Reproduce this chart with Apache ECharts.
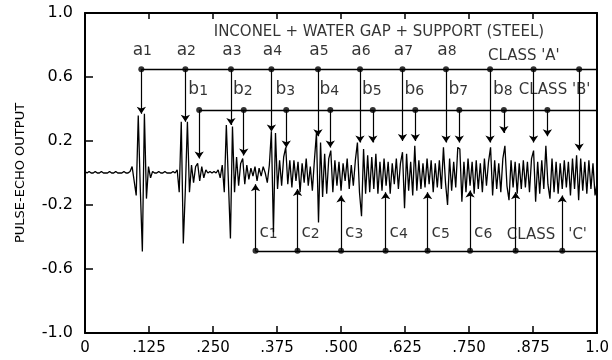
<!DOCTYPE html>
<html>
<head>
<meta charset="utf-8">
<script src="https://cdn.jsdelivr.net/npm/echarts@6/dist/echarts.min.js"></script>
<style>
  html, body { margin: 0; background: #fff; }
  #chart { width: 612px; height: 360px; }
</style>
</head>
<body>
<div id="chart"></div>
<script>
// pulse-echo trace, one sample every SAMPLE_DT of the time axis
const SAMPLE_DT = 0.004;
const pulseEcho = [
  0.01, 0, 0.01, 0, 0, 0.01, 0, 0, 0.01, 0, 0, 0, 0.01, 0, 0, 0.01, 0, 0, 0, 0.01, 0, 0, 0.01,
  0.04, -0.05, -0.14, 0.36, -0.10, -0.49, 0.37, -0.16, 0.04, -0.03, 0.01, 0,
  0, 0.01, 0, 0, 0.01, 0, 0, 0, 0.01, 0, 0.02,
  -0.12, 0.32, -0.44, -0.10, 0.32, -0.12, 0.05, -0.06, 0.04, 0.06, -0.05, 0.04, -0.03, 0.02, 0,
  0.01, 0, 0.01, 0, 0.02, -0.03, 0.05, -0.12, 0.30, -0.05, -0.41, 0.29, -0.12, 0.10, -0.08, 0.06, 0.09, -0.07, 0.05, -0.04,
  0.03, -0.02, 0.04, -0.05, 0.03, -0.02, 0.04, 0, -0.06, 0.05, 0.26, -0.37, 0.25, -0.10, 0.08, -0.08, 0.10, 0.16, -0.07, 0.08,
  -0.09, 0.08, -0.05, 0.07, -0.12, 0.06, -0.06, 0.09, -0.08, 0.04, -0.11, 0.08, 0.25, -0.31, 0.19, -0.15, 0.12, -0.13, 0.09, 0.14,
  -0.12, 0.08, -0.08, 0.07, -0.11, 0.06, -0.05, 0.09, -0.10, 0.05, -0.08, 0.08, 0.19, -0.12, -0.27, 0.15, -0.13, 0.11, -0.12, 0.10,
  -0.10, 0.12, -0.13, 0.07, -0.11, 0.09, -0.08, 0.07, -0.13, 0.06, -0.07, 0.09, -0.10, 0.06, 0.13, -0.22, 0.12, -0.11, 0.07, -0.14,
  0.17, -0.11, 0.08, -0.10, 0.06, -0.09, 0.09, -0.07, 0.08, -0.12, 0.06, -0.09, 0.08, -0.10, 0.16, -0.06, -0.20, 0.09, -0.11, 0.07,
  -0.09, 0.16, 0.15, -0.18, 0.07, -0.12, 0.09, -0.08, 0.07, -0.13, 0.08, -0.10, 0.06, -0.12, 0.09, -0.08, 0.07, 0.16, -0.14, 0.08,
  -0.10, 0.06, -0.12, 0.09, 0.17, -0.08, -0.17, 0.08, -0.09, 0.07, -0.13, 0.06, -0.10, 0.08, -0.09, 0.07, -0.12, 0.09, 0.14, -0.18,
  0.07, -0.13, 0.08, -0.10, 0.17, -0.07, -0.16, 0.09, -0.12, 0.07, -0.13, 0.06, -0.10, 0.08, -0.09, 0.07, -0.14, 0.09, -0.10, 0.11,
  -0.17, 0.09, -0.11, 0.07, -0.13, 0.08, -0.10, 0.06, -0.14, -0.06
];

const xTickLabels = ['0', '.125', '.250', '.375', '.500', '.625', '.750', '.875', '1.0'];

// class A echoes: arrival times, line level, arrow tips
const classA_t = [0.110, 0.196, 0.285, 0.364, 0.455, 0.537, 0.620, 0.705, 0.791, 0.876, 0.965];
const classA_tip = [0.37, 0.32, 0.30, 0.26, 0.23, 0.19, 0.20, 0.19, 0.19, 0.19, 0.14];
const classA_level = 0.648;
const classA_names = ['1', '2', '3', '4', '5', '6', '7', '8'];

// class B
const classB_t = [0.223, 0.310, 0.393, 0.479, 0.562, 0.645, 0.731, 0.818, 0.903];
const classB_tip = [0.09, 0.11, 0.16, 0.16, 0.19, 0.20, 0.19, 0.25, 0.23];
const classB_level = 0.394;
const classB_names = ['1', '2', '3', '4', '5', '6', '7', '8'];

// class C (arrows point up)
const classC_t = [0.333, 0.415, 0.500, 0.587, 0.669, 0.752, 0.841, 0.932];
const classC_tip = [-0.07, -0.10, -0.14, -0.12, -0.12, -0.11, -0.12, -0.14];
const classC_level = -0.486;
const classC_names = ['1', '2', '3', '4', '5', '6'];

const FONT = 'DejaVu Sans';
const INK = '#000';

const chart = echarts.init(document.getElementById('chart'), null, { renderer: 'canvas' });

const trace = pulseEcho.map((v, i) => [i * SAMPLE_DT, v]);

function arrows(ts, level, tips) {
  return ts.map((t, i) => ({ coords: [[t, level], [t, tips[i]]] }));
}
function rail(ts, level) {
  return [{ coords: [[ts[0], level], [1, level]] }];
}
const rich = {
  m: { fontFamily: FONT, fontSize: 17, lineHeight: 17, verticalAlign: 'top', padding: [0, 0, 6, 0], color: INK },
  s: { fontFamily: FONT, fontSize: 14, lineHeight: 14, verticalAlign: 'bottom', color: INK }
};
function subLabels(ts, level, letter, names, offset, align) {
  return names.map((n, i) => ({
    value: [ts[i], level],
    label: { formatter: '{m|' + letter + '}{s|' + n + '}', offset: offset, align: align }
  }));
}
function note(x, y, text, size) {
  return { value: [x, y], label: { formatter: text, fontSize: size } };
}

const arrowStyle = {
  type: 'lines', coordinateSystem: 'cartesian2d', silent: true,
  symbol: ['none', 'arrow'], symbolSize: 7,
  lineStyle: { color: INK, width: 1.2, opacity: 1, curveness: 0 },
  z: 4
};
const railStyle = {
  type: 'lines', coordinateSystem: 'cartesian2d', silent: true,
  symbol: 'none',
  lineStyle: { color: INK, width: 1.3, opacity: 1 },
  z: 4
};

chart.setOption({
  animation: false,
  backgroundColor: '#fff',
  grid: { left: 85, right: 12, top: 13, bottom: 27 },
  xAxis: [{
    type: 'value', min: 0, max: 1, interval: 0.125,
    axisLine: { onZero: false, lineStyle: { color: INK, width: 2 } },
    axisTick: { inside: true, length: 7, lineStyle: { color: INK, width: 1.5 } },
    axisLabel: {
      color: INK, fontFamily: FONT, fontSize: 15, margin: 8,
      formatter: v => xTickLabels[Math.round(v / 0.125)]
    },
    splitLine: { show: false }
  }, {
    type: 'value', min: 0, max: 1, interval: 0.125, position: 'top',
    axisLine: { onZero: false, lineStyle: { color: INK, width: 2 } },
    axisTick: { inside: true, length: 6, lineStyle: { color: INK, width: 1.5 } },
    axisLabel: { show: false },
    splitLine: { show: false }
  }],
  yAxis: [{
    type: 'value', min: -1, max: 1, interval: 0.4,
    name: 'PULSE-ECHO OUTPUT', nameLocation: 'middle', nameGap: 58, nameRotate: 90,
    nameTextStyle: { color: INK, fontFamily: FONT, fontSize: 13 },
    axisLine: { onZero: false, lineStyle: { color: INK, width: 2 } },
    axisTick: { inside: true, length: 8, lineStyle: { color: INK, width: 1.5 } },
    axisLabel: { color: INK, fontFamily: FONT, fontSize: 16, margin: 12, formatter: v => v.toFixed(1) },
    splitLine: { show: false }
  }, {
    type: 'value', min: -1, max: 1, interval: 0.4, position: 'right',
    axisLine: { onZero: false, lineStyle: { color: INK, width: 2 } },
    axisTick: { show: false }, axisLabel: { show: false }, splitLine: { show: false }
  }],
  series: [
    {
      type: 'line', data: trace, showSymbol: false, silent: true,
      lineStyle: { color: INK, width: 1.3 }, z: 2
    },
    Object.assign({ data: rail(classA_t, classA_level) }, railStyle),
    Object.assign({ data: rail(classB_t, classB_level) }, railStyle),
    Object.assign({ data: rail(classC_t, classC_level) }, railStyle),
    Object.assign({ data: arrows(classA_t, classA_level, classA_tip) }, arrowStyle),
    Object.assign({ data: arrows(classB_t, classB_level, classB_tip) }, arrowStyle),
    Object.assign({ data: arrows(classC_t, classC_level, classC_tip) }, arrowStyle),
    {
      type: 'scatter', silent: true, symbol: 'circle', symbolSize: 6,
      itemStyle: { color: INK }, z: 5,
      data: classA_t.map(t => [t, classA_level])
        .concat(classB_t.map(t => [t, classB_level]))
        .concat(classC_t.map(t => [t, classC_level]))
    },
    {
      type: 'scatter', silent: true, symbolSize: 0, z: 6,
      label: { show: true, position: 'inside', rich: rich },
      data: subLabels(classA_t, classA_level, 'a', classA_names, [1, -19], 'center')
        .concat(subLabels(classB_t, classB_level, 'b', classB_names, [-1, -20], 'center'))
        .concat(subLabels(classC_t, classC_level, 'c', classC_names, [4, -18], 'left'))
    },
    {
      type: 'scatter', silent: true, symbolSize: 0, z: 6,
      label: { show: true, position: 'inside', color: INK, fontFamily: FONT },
      data: [
        note(0.574, 0.88, 'INCONEL + WATER GAP + SUPPORT (STEEL)', 15),
        note(0.857, 0.73, "CLASS 'A'", 15),
        note(0.917, 0.52, "CLASS 'B'", 15),
        note(0.871, -0.39, 'CLASS', 15),
        note(0.962, -0.39, "'C'", 15)
      ]
    }
  ]
});
</script>
</body>
</html>
